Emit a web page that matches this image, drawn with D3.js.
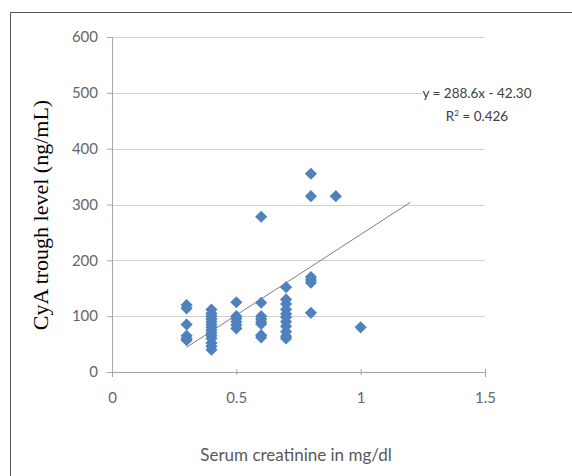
<!DOCTYPE html>
<html>
<head>
<meta charset="utf-8">
<script src="https://cdn.jsdelivr.net/npm/d3@7"></script>
<style>
	body { margin: 0; background: #fff; }
	.tick text { font-family: Lato, "Open Sans", sans-serif; font-size: 15px; fill: #666; }
</style>
</head>
<body>
<div id="graph"></div>
<script>
// creatinine (mg/dl) and matching CyA trough levels (ng/mL)
const creatinine = [
	0.3, 0.3, 0.3, 0.3, 0.3, 0.3,
	0.4, 0.4, 0.4, 0.4, 0.4, 0.4, 0.4, 0.4, 0.4, 0.4, 0.4, 0.4, 0.4, 0.4,
	0.5, 0.5, 0.5, 0.5, 0.5, 0.5,
	0.6, 0.6, 0.6, 0.6, 0.6, 0.6, 0.6, 0.6,
	0.7, 0.7, 0.7, 0.7, 0.7, 0.7, 0.7, 0.7, 0.7, 0.7, 0.7,
	0.8, 0.8, 0.8, 0.8, 0.8, 0.8,
	0.9, 1.0
];
const cyaLevel = [
	120, 114, 85, 65, 60, 57,
	112, 105, 100, 95, 90, 85, 80, 75, 70, 65, 60, 52, 46, 40,
	125, 100, 96, 90, 84, 78,
	278, 124, 100, 95, 90, 86, 66, 62,
	152, 130, 122, 112, 104, 98, 90, 82, 72, 64, 60,
	355, 315, 170, 165, 160, 106,
	315, 80
];
const xTicks = [0, 0.5, 1, 1.5];
const yTicks = [0, 100, 200, 300, 400, 500, 600];
const slope = 288.6, intercept = -42.30;
const trendRange = [0.3, 1.2];
const equationText = "y = 288.6x - 42.30";

const margin = {top: 37, right: 87, bottom: 104, left: 112},
	width = 572 - margin.left - margin.right,
	height = 476 - margin.top - margin.bottom;

const svg = d3.select("#graph").append("svg")
	.attr("width", 572)
	.attr("height", 476);

// outer frame
svg.append("rect")
	.attr("x", 10.5).attr("y", 12.5)
	.attr("width", 600).attr("height", 500)
	.attr("fill", "none")
	.attr("stroke", "#555")
	.attr("stroke-width", 1);

const g = svg.append("g")
	.attr("transform", "translate(" + margin.left + "," + margin.top + ")");

const xScale = d3.scaleLinear().domain([0, 1.5]).range([0, width]);
const yScale = d3.scaleLinear().domain([0, 600]).range([height, 0]);

// gridlines
g.append("g")
	.selectAll("line")
	.data(yTicks.filter(d => d > 0))
	.enter().append("line")
	.attr("x1", 0).attr("x2", width)
	.attr("y1", d => Math.round(yScale(d)) + 0.5)
	.attr("y2", d => Math.round(yScale(d)) + 0.5)
	.attr("stroke", "#d0d0d0")
	.attr("stroke-width", 1.2);

const xAxis = d3.axisBottom(xScale).tickValues(xTicks).tickSize(5).tickPadding(15)
	.tickFormat(d3.format("~g"));
const yAxis = d3.axisLeft(yScale).tickValues(yTicks).tickSize(5).tickPadding(9);

const gx = g.append("g")
	.attr("transform", "translate(0," + height + ")")
	.call(xAxis);
gx.selectAll(".tick line").attr("y1", -3).attr("y2", 3);

const gy = g.append("g").call(yAxis);

[gx, gy].forEach(a => {
	a.select(".domain").attr("stroke", "#a6a6a6");
	a.selectAll(".tick line").attr("stroke", "#a6a6a6");
});
gy.select(".domain").attr("d", "M0.5," + height + "V0");

// trendline
g.append("line")
	.attr("x1", xScale(trendRange[0]))
	.attr("y1", yScale(slope * trendRange[0] + intercept))
	.attr("x2", xScale(trendRange[1]))
	.attr("y2", yScale(slope * trendRange[1] + intercept))
	.attr("stroke", "#7f7f7f")
	.attr("stroke-width", 1);

// points
const diamond = d3.symbol().type(d3.symbolSquare).size(74);
g.selectAll("path.dot")
	.data(creatinine.map((c, i) => ({x: c, y: cyaLevel[i]})))
	.enter().append("path")
	.attr("class", "dot")
	.attr("d", diamond)
	.attr("transform", d => "translate(" + xScale(d.x) + "," + yScale(d.y) + ") rotate(45)")
	.attr("fill", "#4f81bd");

// equation label
const label = svg.append("g").attr("transform", "translate(477,0)");
label.append("rect")
	.attr("x", -55).attr("y", 80)
	.attr("width", 110).attr("height", 44)
	.attr("fill", "#fff");
label.append("text")
	.attr("y", 98)
	.attr("text-anchor", "middle")
	.style("font-family", "Lato, sans-serif")
	.style("font-size", "13.5px")
	.style("fill", "#404040")
	.text(equationText);
const r2 = label.append("text")
	.attr("y", 121)
	.attr("text-anchor", "middle")
	.style("font-family", "Lato, sans-serif")
	.style("font-size", "13.5px")
	.style("fill", "#404040");
r2.append("tspan").text("R");
r2.append("tspan").attr("dy", -5).style("font-size", "8px").text("2");
r2.append("tspan").attr("dy", 5).text(" = 0.426");

// axis titles
svg.append("text")
	.attr("transform", "rotate(-90)")
	.attr("x", -215)
	.attr("y", 48)
	.attr("text-anchor", "middle")
	.style("font-family", "'Liberation Serif', serif")
	.style("font-size", "22px")
	.style("fill", "#000")
	.text("CyA trough level (ng/mL)");

svg.append("text")
	.attr("x", 296)
	.attr("y", 461)
	.attr("text-anchor", "middle")
	.style("font-family", "Lato, sans-serif")
	.style("font-size", "17px")
	.style("fill", "#595959")
	.text("Serum creatinine in mg/dl");
</script>
</body>
</html>
